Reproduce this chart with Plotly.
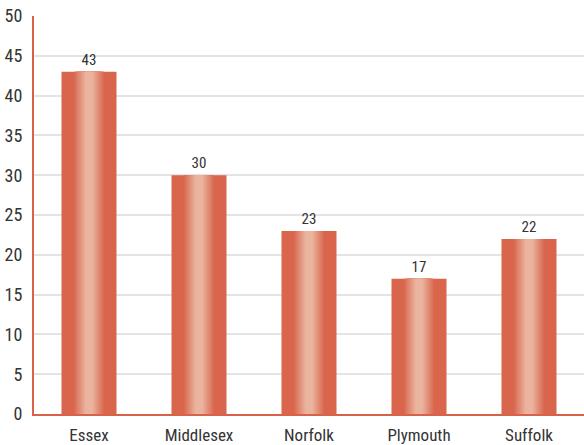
import plotly.graph_objects as go
import numpy as np

categories = ["Essex", "Middlesex", "Norfolk", "Plymouth", "Suffolk"]
values = [43, 30, 23, 17, 22]
y_ticks = [0, 5, 10, 15, 20, 25, 30, 35, 40, 45, 50]

dark = np.array([216, 101, 76])
light = np.array([235, 180, 158])
FONT = "Liberation Sans Narrow, Roboto Condensed, Arial Narrow, sans-serif"

fig = go.Figure()
n = 14
full_w = 0.5
for i in range(n):
    if i == 0:
        col = dark
        w = full_w
    else:
        t = min(1.0, i / (n - 2))
        col = dark + (light - dark) * t
        w = full_w * (0.55 - 0.45 * (i - 1) / (n - 2))
    c = "rgb(%d,%d,%d)" % tuple(col.astype(int))
    fig.add_trace(go.Bar(
        x=categories, y=values, width=w,
        marker=dict(color=c, line=dict(width=0)),
        text=[str(v) for v in values] if i == 0 else None,
        textposition="outside" if i == 0 else None,
        textfont=dict(family=FONT, size=15, color="#333333"),
        cliponaxis=False, hoverinfo="skip", showlegend=False,
    ))

fig.update_layout(
    width=584, height=445,
    margin=dict(l=34, r=0, t=16, b=31),
    barmode="overlay",
    plot_bgcolor="white", paper_bgcolor="white",
    font=dict(family=FONT, size=17, color="#333333"),
)
fig.update_yaxes(
    range=[0, 50], tickvals=y_ticks, showgrid=True, gridcolor="#e4e4e4", gridwidth=2,
    showline=True, linecolor="#d9634a", linewidth=2, zeroline=False,
    ticks="", ticklabelstandoff=6, automargin=False,
    tickfont=dict(family=FONT, size=18, color="#333333"),
)
fig.update_xaxes(
    showline=True, linecolor="#d9634a", linewidth=2, ticks="", automargin=False,
    ticklabelstandoff=5,
    tickfont=dict(family=FONT, size=17, color="#333333"),
)
fig.write_html("out.html", config={"displayModeBar": False},
               post_script="document.body.style.margin='0';document.body.style.overflow='hidden';")
